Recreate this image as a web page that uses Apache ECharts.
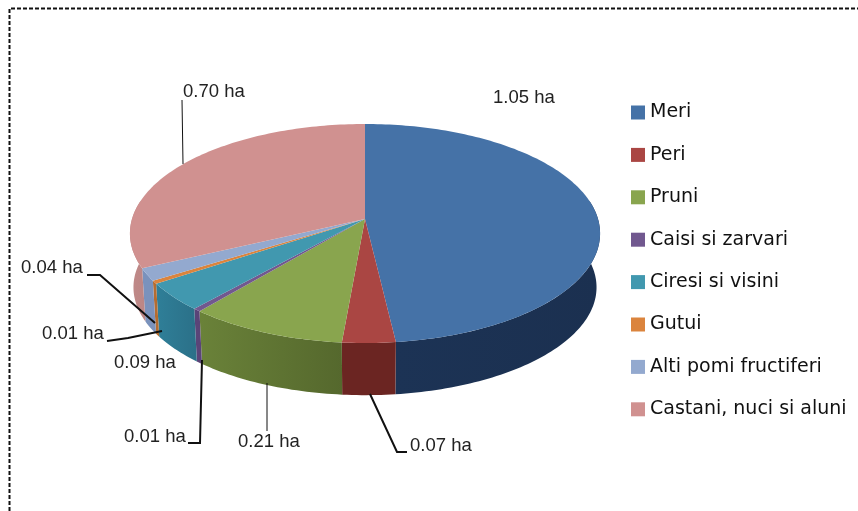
<!DOCTYPE html>
<html>
<head>
<meta charset="utf-8">
<style>
  html, body { margin: 0; padding: 0; background: #fff; }
  #chart { width: 858px; height: 511px; }
</style>
<script src="https://cdn.jsdelivr.net/npm/echarts@6/dist/echarts.min.js"></script>
</head>
<body>
<div id="chart"></div>
<script>
const categories = ['Meri', 'Peri', 'Pruni', 'Caisi si zarvari', 'Ciresi si visini', 'Gutui', 'Alti pomi fructiferi', 'Castani, nuci si aluni'];
const hectares = [1.05, 0.07, 0.21, 0.01, 0.09, 0.01, 0.04, 0.70];

const topColors = ['#4572a7', '#aa4643', '#89a54e', '#71588f', '#4198af', '#db843d', '#93a9cf', '#d09190'];
const wallColors = [
  ['#1c3355', '#1b3050'],
  ['#6b2522', '#6b2522'],
  ['#6a8239', '#55682d'],
  ['#5a4478', '#5a4478'],
  ['#2f7f98', '#2b7088'],
  ['#b46c30', '#b46c30'],
  ['#7a92bc', '#7a92bc'],
  ['#c08a89', '#bc8685']
];

// label box (left, middle) and leader line, same order as categories
const labelLayout = [
  { x: 493, y: 98, line: null },
  { x: 410, y: 446, line: [[370, 394], [397, 452], [407, 452]], width: 2 },
  { x: 238, y: 442, line: [[267, 383], [267, 431]], width: 1 },
  { x: 124, y: 437, line: [[202, 360], [200, 443], [188, 443]], width: 2 },
  { x: 114, y: 363, line: null },
  { x: 42, y: 334, line: [[162, 331], [128, 338], [107, 341]], width: 2 },
  { x: 21, y: 268, line: [[155, 323], [100, 275], [87, 275]], width: 2 },
  { x: 183, y: 92, line: [[182, 100], [183, 164]], width: 1 }
];

// perspective of the disc: apex on screen and the tilt of the plane
const apexX = 365;
const apexY = 219;
const radiusX = 233;
const radiusY = 107.6;
const tilt = 0.1324;
const wallDrop = 54;
const wallScale = 0.985;

const total = hectares.reduce((a, b) => a + b, 0);

function rimPoint(angle, drop, scale) {
  const u = Math.sin(angle);
  const v = Math.cos(angle);
  const w = 1 + tilt * v;
  return [apexX + scale * radiusX * u / w, apexY + drop - scale * radiusY * v / w];
}

function arcAngles(from, to) {
  const steps = Math.max(2, Math.ceil((to - from) / 0.02));
  const list = [];
  for (let i = 0; i <= steps; i++) {
    list.push(from + (to - from) * i / steps);
  }
  return list;
}

function makeRenderItem(index) {
  return function(params, api) {
    const value = api.value(0);
    const before = hectares.slice(0, index).reduce((a, b) => a + b, 0);
    const from = before / total * Math.PI * 2;
    const to = (before + value) / total * Math.PI * 2;
    const children = [];

    // only the front part of the side wall can be seen
    const wallFrom = Math.max(from, 80 / 180 * Math.PI);
    const wallTo = Math.min(to, 280 / 180 * Math.PI);
    if (wallTo > wallFrom) {
      const angles = arcAngles(wallFrom, wallTo);
      const upper = angles.map(a => rimPoint(a, 0, 1));
      const lower = angles.map(a => rimPoint(a, wallDrop, wallScale)).reverse();
      children.push({
        type: 'polygon',
        shape: { points: upper.concat(lower) },
        style: {
          fill: new echarts.graphic.LinearGradient(0, 0, 1, 0, [
            { offset: 0, color: wallColors[index][0] },
            { offset: 1, color: wallColors[index][1] }
          ])
        }
      });
    }

    const top = arcAngles(from, to).map(a => rimPoint(a, 0, 1));
    top.push([apexX, apexY]);
    children.push({
      type: 'polygon',
      shape: { points: top },
      style: { fill: topColors[index] }
    });

    const layout = labelLayout[index];
    if (layout.line) {
      children.push({
        type: 'polyline',
        shape: { points: layout.line },
        style: { fill: null, stroke: '#111', lineWidth: layout.width },
        z2: 10
      });
    }
    children.push({
      type: 'text',
      x: layout.x,
      y: layout.y,
      z2: 11,
      style: {
        text: value.toFixed(2) + ' ha',
        fill: '#222',
        font: '18.5px "Liberation Sans"',
        verticalAlign: 'middle'
      }
    });
    return { type: 'group', children: children };
  };
}

const chart = echarts.init(document.getElementById('chart'), null, { renderer: 'canvas' });
chart.setOption({
  animation: false,
  backgroundColor: '#fff',
  legend: {
    orient: 'vertical',
    left: 626,
    top: 97.5,
    icon: 'rect',
    itemWidth: 14,
    itemHeight: 14,
    itemGap: 22.4,
    selectedMode: false,
    data: categories,
    textStyle: {
      fontFamily: 'DejaVu Sans',
      fontSize: 19,
      lineHeight: 20,
      color: '#111',
      padding: [0, 0, 0, 0]
    }
  },
  graphic: [
    {
      type: 'polyline',
      shape: { points: [[9.5, 511], [9.5, 8.5], [858, 8.5]] },
      style: { fill: null, stroke: '#111', lineWidth: 2, lineDash: [4, 2] }
    }
  ],
  series: categories.map((name, i) => ({
    name: name,
    type: 'custom',
    coordinateSystem: 'none',
    itemStyle: { color: topColors[i] },
    renderItem: makeRenderItem(i),
    data: [[hectares[i]]]
  }))
});
</script>
</body>
</html>
